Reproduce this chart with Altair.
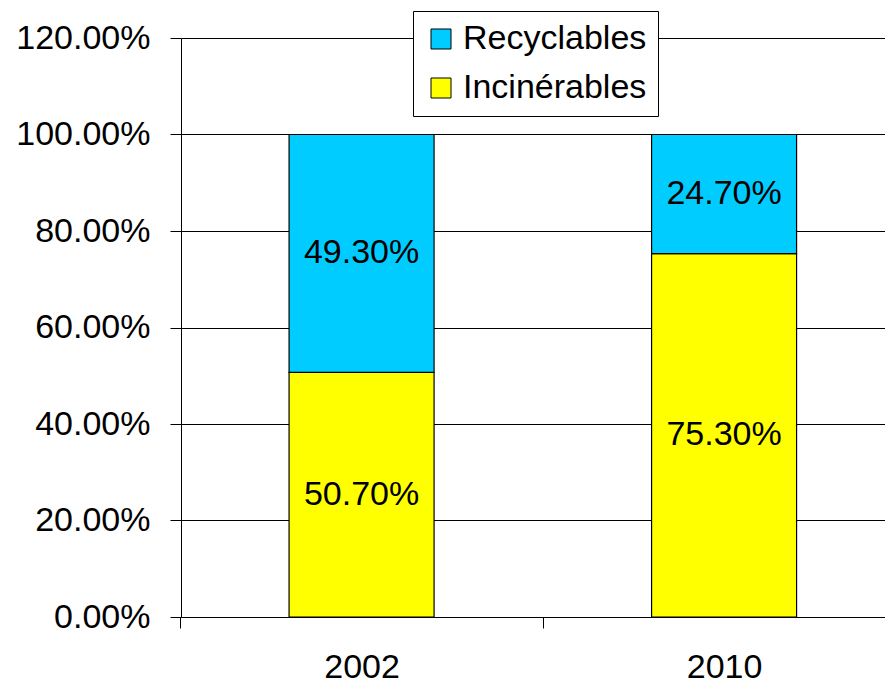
import altair as alt
import pandas as pd

years = ["2002", "2010"]
series = ["Recyclables", "Incinérables"]
colors = ["#00CCFF", "#FFFF00"]
incinerables = [0.507, 0.753]
recyclables = [0.493, 0.247]
y_ticks = [0.0, 0.2, 0.4, 0.6, 0.8, 1.0, 1.2]

rows = []
for i, yr in enumerate(years):
    rows.append({"year": yr, "series": "Incinérables", "value": incinerables[i], "order": 0})
    rows.append({"year": yr, "series": "Recyclables", "value": recyclables[i], "order": 1})
df = pd.DataFrame(rows)

FONT = "Liberation Sans"
W, H = 704, 579
P_IN, P_OUT, ALIGN = 0.6, 0.271, 0.55
step = W / (2 - P_IN + 2 * P_OUT)

base = alt.Chart(df).transform_stack(
    stack="value", as_=["y0", "y1"], groupby=["year"],
    sort=[alt.SortField("order", order="ascending")]
).transform_calculate(mid="(datum.y0 + datum.y1) / 2")

xscale = alt.Scale(paddingInner=P_IN, paddingOuter=P_OUT, align=ALIGN)
yscale = alt.Scale(domain=[0, 1.2], nice=False)

bars = base.mark_bar(stroke="black", strokeWidth=1.2).encode(
    x=alt.X("year:N", scale=xscale, sort=years,
            axis=alt.Axis(title=None, labelAngle=0, bandPosition=0,
                          tickOffset=-P_IN / 2 * step, labelOffset=P_IN / 2 * step,
                          tickSize=11, labelPadding=22, grid=False)),
    y=alt.Y("y0:Q", scale=yscale,
            axis=alt.Axis(title=None, values=y_ticks, format=".2%", tickSize=11,
                          labelPadding=20, grid=True)),
    y2="y1:Q",
    color=alt.Color("series:N", scale=alt.Scale(domain=series, range=colors),
                    legend=alt.Legend(title=None, orient="none", legendX=232, legendY=-27,
                                      fillColor="white", strokeColor="black", padding=11,
                                      symbolType="square", symbolSize=400,
                                      symbolStrokeColor="black", symbolStrokeWidth=1,
                                      labelFontSize=34, labelFont=FONT, labelColor="black",
                                      labelOffset=5, rowPadding=15, labelLimit=0)),
)

text = base.mark_text(fontSize=34, font=FONT, color="black").encode(
    x=alt.X("year:N", scale=xscale, sort=years),
    y=alt.Y("mid:Q", scale=yscale),
    text=alt.Text("value:Q", format=".2%"),
)

chart = alt.layer(bars, text).properties(
    width=W, height=H,
    autosize=alt.AutoSizeParams(type="none"),
    padding={"left": 173, "top": 30, "right": 0, "bottom": 67},
).configure_view(strokeWidth=0).configure_axis(
    labelFont=FONT, labelFontSize=34, labelColor="black",
    domainColor="black", tickColor="black", gridColor="black", gridWidth=1,
    domainWidth=1, tickWidth=1,
)

chart.save("out.html", embed_options={"renderer": "svg", "actions": False})
